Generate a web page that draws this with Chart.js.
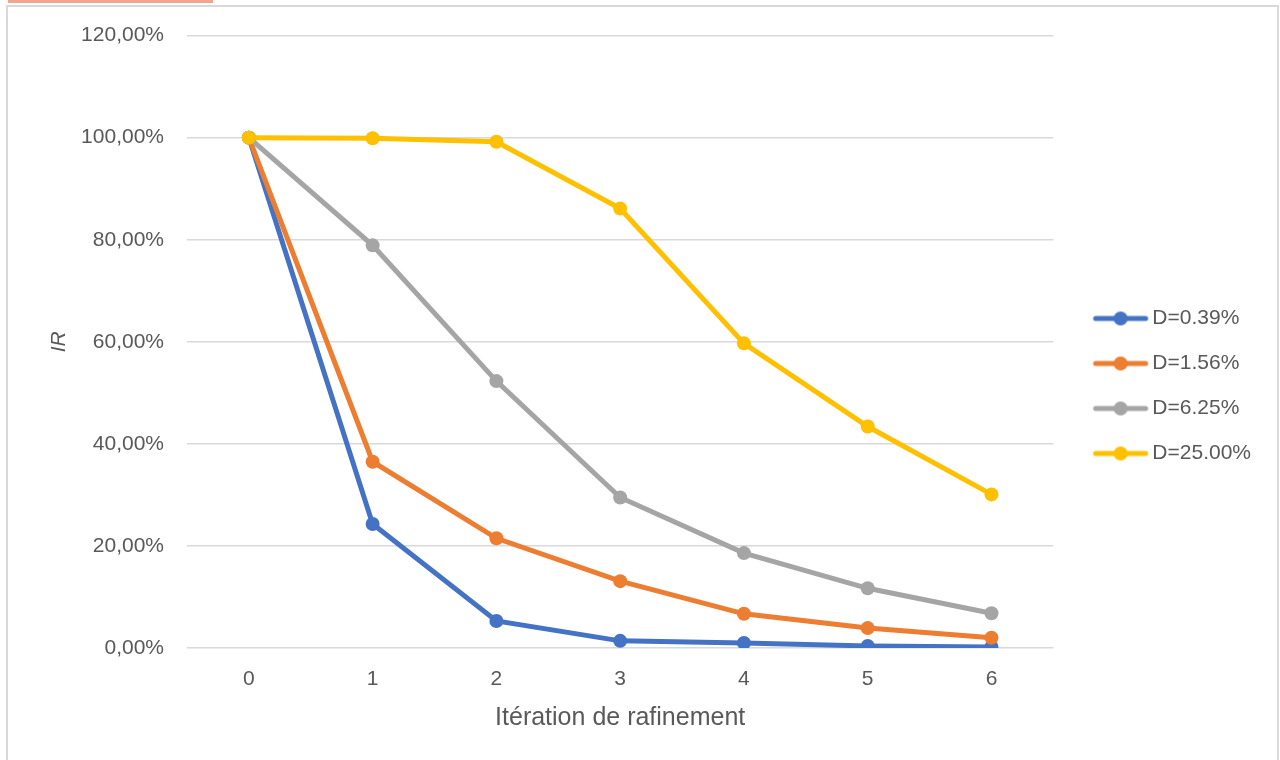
<!DOCTYPE html>
<html>
<head>
<meta charset="utf-8">
<script src="https://cdn.jsdelivr.net/npm/chart.js@4/dist/chart.umd.min.js"></script>
<style>
  html, body { margin: 0; padding: 0; background: #fff; overflow: hidden; }
  #frame { position: absolute; left: 6px; top: 5px; width: 1269px; height: 780px; border: 2px solid #d9d9d9; }
  #tab { position: absolute; left: 8px; top: 0; width: 205px; height: 3px; background: #f2a590; }
  #chart { position: absolute; left: 0; top: 0; }
</style>
</head>
<body>
<div id="frame"></div>
<div id="tab"></div>
<canvas id="chart" width="1280" height="760"></canvas>
<script>
const iterations = ["0", "1", "2", "3", "4", "5", "6"];
const seriesNames = ["D=0.39%", "D=1.56%", "D=6.25%", "D=25.00%"];
const seriesColors = ["#4472C4", "#ED7D31", "#A5A5A5", "#FFC000"];

// IR in %
const irD039 = [100, 24.3, 5.3, 1.4, 1.0, 0.4, 0.2];
const irD156 = [100, 36.5, 21.5, 13.1, 6.7, 3.9, 2.0];
const irD625 = [100, 78.9, 52.3, 29.5, 18.6, 11.7, 6.8];
const irD2500 = [100, 99.9, 99.2, 86.1, 59.7, 43.4, 30.1];

const FONT = "'Liberation Sans', Arial, sans-serif";
const TEXT = "#595959";

// little line + dot picture for the legend, like Excel does it
function legendMarker(color) {
  const c = document.createElement("canvas");
  c.width = 90;
  c.height = 18;
  const g = c.getContext("2d");
  g.strokeStyle = color;
  g.lineWidth = 5;
  g.lineCap = "round";
  g.beginPath();
  g.moveTo(31, 9);
  g.lineTo(81, 9);
  g.stroke();
  g.fillStyle = color;
  g.beginPath();
  g.arc(56, 9, 7, 0, Math.PI * 2);
  g.fill();
  return c;
}

function makeDataset(i, values) {
  return {
    label: seriesNames[i],
    data: values,
    borderColor: seriesColors[i],
    backgroundColor: seriesColors[i],
    pointBackgroundColor: seriesColors[i],
    pointBorderColor: seriesColors[i],
    borderWidth: 5,
    pointRadius: 7,
    pointBorderWidth: 0,
    tension: 0,
    order: 3 - i
  };
}

const markers = seriesColors.map(legendMarker);

new Chart(document.getElementById("chart").getContext("2d"), {
  type: "line",
  data: {
    labels: iterations,
    datasets: [
      makeDataset(0, irD039),
      makeDataset(1, irD156),
      makeDataset(2, irD625),
      makeDataset(3, irD2500)
    ]
  },
  options: {
    responsive: false,
    devicePixelRatio: 1,
    animation: false,
    layout: { padding: { top: 35, right: 19, bottom: 23, left: 0 } },
    plugins: {
      tooltip: { enabled: false },
      legend: {
        position: "right",
        labels: {
          usePointStyle: true,
          pointStyleWidth: 64.5,
          padding: 24,
          color: TEXT,
          font: { family: FONT, size: 21 },
          sort: (a, b) => a.datasetIndex - b.datasetIndex,
          generateLabels: (chart) => {
            const items = Chart.defaults.plugins.legend.labels.generateLabels(chart);
            items.forEach(it => { it.pointStyle = markers[it.datasetIndex]; });
            return items;
          }
        }
      }
    },
    scales: {
      x: {
        offset: true,
        grid: { display: false, drawTicks: false },
        border: { display: false },
        ticks: { color: TEXT, font: { family: FONT, size: 21 }, padding: 19 },
        title: {
          display: true,
          text: "Itération de rafinement",
          color: TEXT,
          font: { family: FONT, size: 25 },
          padding: { top: 0, bottom: 4 }
        },
        afterFit: (scale) => { scale.height = 89; }
      },
      y: {
        min: 0,
        max: 120,
        grid: { color: "#d9d9d9", lineWidth: 1.5, drawTicks: false },
        border: { display: false },
        ticks: {
          stepSize: 20,
          color: TEXT,
          padding: 23,
          font: { family: FONT, size: 21 },
          callback: (v) => v.toFixed(2).replace(".", ",") + "%"
        },
        title: {
          display: true,
          text: "IR",
          color: TEXT,
          font: { family: FONT, size: 21, style: "italic" },
          padding: { top: 47, bottom: 0 }
        },
        afterFit: (scale) => { scale.width = 187; }
      }
    }
  }
});
</script>
</body>
</html>
